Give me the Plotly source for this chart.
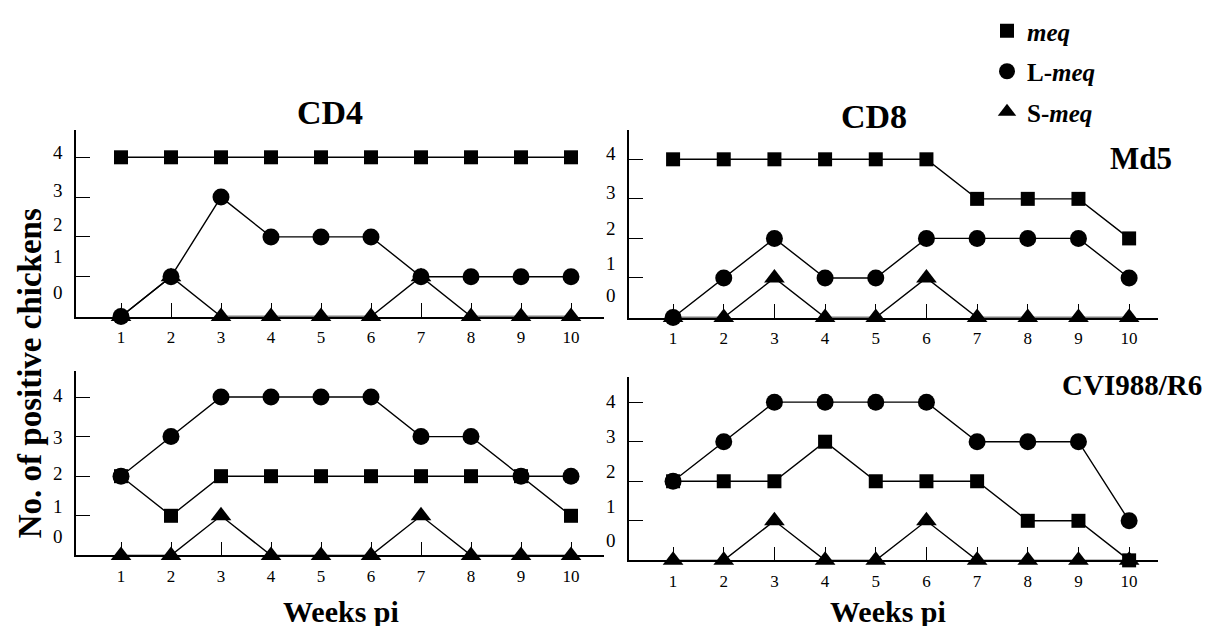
import plotly.graph_objects as go

weeks = [1, 2, 3, 4, 5, 6, 7, 8, 9, 10]

# CD4 / Md5
cd4_md5_meq = [4, 4, 4, 4, 4, 4, 4, 4, 4, 4]
cd4_md5_lmeq = [0, 1, 3, 2, 2, 2, 1, 1, 1, 1]
cd4_md5_smeq = [0, 1, 0, 0, 0, 0, 1, 0, 0, 0]
# CD8 / Md5
cd8_md5_meq = [4, 4, 4, 4, 4, 4, 3, 3, 3, 2]
cd8_md5_lmeq = [0, 1, 2, 1, 1, 2, 2, 2, 2, 1]
cd8_md5_smeq = [0, 0, 1, 0, 0, 1, 0, 0, 0, 0]
# CD4 / CVI988/R6
cd4_cvi_meq = [2, 1, 2, 2, 2, 2, 2, 2, 2, 1]
cd4_cvi_lmeq = [2, 3, 4, 4, 4, 4, 3, 3, 2, 2]
cd4_cvi_smeq = [0, 0, 1, 0, 0, 0, 1, 0, 0, 0]
# CD8 / CVI988/R6
cd8_cvi_meq = [2, 2, 2, 3, 2, 2, 2, 1, 1, 0]
cd8_cvi_lmeq = [2, 3, 4, 4, 4, 4, 3, 3, 3, 1]
cd8_cvi_smeq = [0, 0, 1, 0, 0, 1, 0, 0, 0, 0]

series_names = ["<b><i>meq</i></b>", "<b>L-<i>meq</i></b>", "<b>S-<i>meq</i></b>"]
y_tick_text = ["0", "1", "2", "3", "4"]
x_tick_text = [str(w) for w in weeks]

W, H = 1211, 626
FONT = "Liberation Serif"

def px(x):
    return x / W

def py(y):
    return 1 - y / H

# panel layout (pixel geometry); y-labels sit slightly off their tick marks as in the original
panels = [
    dict(data=(cd4_md5_meq, cd4_md5_lmeq, cd4_md5_smeq), x0=68, x1=596, y0=120, y1=307,
         xr=[0.10, 10.66], yr=[0, 4.675], lab=[0.62, 1.50, 2.32, 3.17, 4.12]),
    dict(data=(cd8_md5_meq, cd8_md5_lmeq, cd8_md5_smeq), x0=621, x1=1150, y0=120, y1=308,
         xr=[0.13, 10.57], yr=[0, 4.73], lab=[0.55, 1.38, 2.26, 3.17, 4.15]),
    dict(data=(cd4_cvi_meq, cd4_cvi_lmeq, cd4_cvi_smeq), x0=68, x1=596, y0=362, y1=547,
         xr=[0.10, 10.66], yr=[0, 4.65], lab=[0.48, 1.23, 2.06, 2.99, 4.03]),
    dict(data=(cd8_cvi_meq, cd8_cvi_lmeq, cd8_cvi_smeq), x0=621, x1=1150, y0=368, y1=552,
         xr=[0.13, 10.57], yr=[0, 4.63], lab=[0.50, 1.36, 2.26, 3.14, 4.03]),
]

symbols = ["square", "circle", "triangle-up"]
sizes = [14, 17, 18]

fig = go.Figure()
layout = {}
for i, p in enumerate(panels):
    k = "" if i == 0 else str(i + 1)
    for s in (2, 1, 0):
        fig.add_trace(go.Scatter(
            x=weeks, y=p["data"][s], mode="lines+markers",
            xaxis="x" + k, yaxis="y" + k, showlegend=False,
            line=dict(color="black", width=1.4),
            marker=dict(symbol=symbols[s], size=sizes[s], color="black"),
            cliponaxis=False, hoverinfo="x+y",
        ))
    layout["xaxis" + k] = dict(
        domain=[px(p["x0"]), px(p["x1"])], range=p["xr"], anchor="y" + k,
        showline=True, linecolor="black", linewidth=1.5, showgrid=False, zeroline=False,
        tickmode="array", tickvals=weeks, ticktext=x_tick_text,
        ticks="inside", ticklen=14, tickwidth=1.2, tickcolor="black",
        tickfont=dict(family=FONT, size=17, color="black"), ticklabelstandoff=4,
    )
    layout["yaxis" + k] = dict(
        domain=[py(p["y1"]), py(p["y0"])], range=p["yr"], anchor="x" + k,
        showline=True, linecolor="black", linewidth=1.5, showgrid=False, zeroline=False,
        tickmode="array", tickvals=p["lab"], ticktext=y_tick_text, ticks="",
        tickfont=dict(family=FONT, size=19, color="black"), ticklabelstandoff=8,
        minor=dict(tickmode="array", tickvals=[1, 2, 3, 4], ticks="inside",
                   ticklen=14, tickwidth=1.2, tickcolor="black"),
    )

# legend-only entries
for s in range(3):
    fig.add_trace(go.Scatter(
        x=[None], y=[None], mode="markers", name=series_names[s],
        legendgroup="g%d" % s,
        marker=dict(symbol=symbols[s], size=[14, 17, 19][s], color="black"),
    ))

def ann(text, x, y, size, angle=0):
    return dict(text=text, x=px(x), y=py(y), xref="paper", yref="paper",
                showarrow=False, textangle=angle, xanchor="center", yanchor="middle",
                font=dict(family=FONT, size=size, color="black"))

annotations = [
    ann("<b>CD4</b>", 322, 102, 34),
    ann("<b>CD8</b>", 866, 106, 34),
    ann("<b>Md5</b>", 1133, 148, 31),
    ann("<b>CVI988/R6</b>", 1124, 376, 29),
    ann("<b>No. of positive chickens</b>", 22, 364, 33, angle=-90),
    ann("<b>Weeks pi</b>", 333, 603, 30),
    ann("<b>Weeks pi</b>", 880, 603, 30),
]

fig.update_layout(
    width=W, height=H, margin=dict(l=0, r=0, t=0, b=0),
    paper_bgcolor="white", plot_bgcolor="white",
    annotations=annotations,
    showlegend=True,
    legend=dict(x=px(979), y=1.005, xanchor="left", yanchor="top",
                font=dict(family=FONT, size=25, color="black"),
                bgcolor="rgba(0,0,0,0)", tracegroupgap=5, itemclick=False),
    **layout,
)

fig.write_html("out.html")
